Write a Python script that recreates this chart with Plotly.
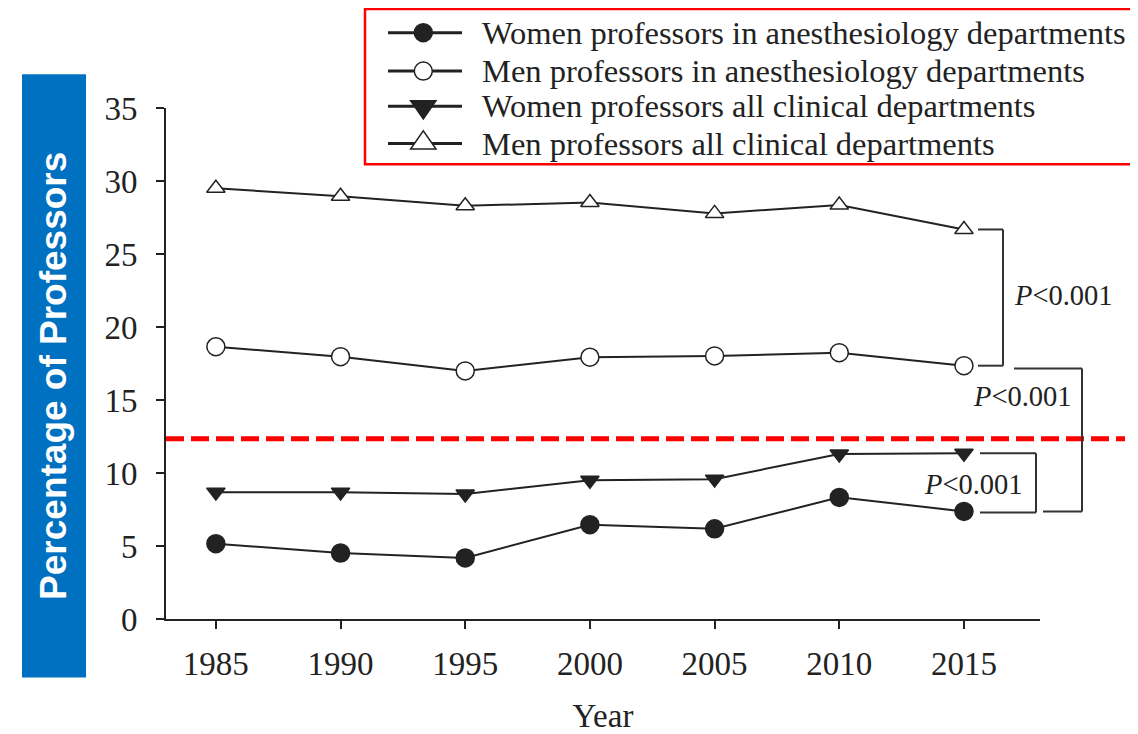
import math
import plotly.graph_objects as go

years = [1985, 1990, 1995, 2000, 2005, 2010, 2015]
women_anes = [5.16, 4.52, 4.18, 6.46, 6.18, 8.33, 7.37]
men_anes = [18.65, 17.97, 16.99, 17.93, 18.02, 18.24, 17.35]
women_all = [8.69, 8.69, 8.56, 9.5, 9.58, 11.3, 11.35]
men_all = [29.5, 28.96, 28.3, 28.53, 27.78, 28.35, 26.68]
names = ["Women professors in anesthesiology departments",
         "Men professors in anesthesiology departments",
         "Women professors all clinical departments",
         "Men professors all clinical departments"]
threshold = 12.34
p_label = "<i>P</i><0.001"
y_ticks = [0, 5, 10, 15, 20, 25, 30, 35]

SERIF = "Liberation Serif, Times New Roman, serif"
INK = "#222222"

# page geometry (the page body adds an 8px margin before the figure)
OFF = 8
W, H = 1138 - OFF, 734 - OFF
PL, PR, PT, PB = 166.0, 1040.0, 107.7, 619.4
def px(x):
    return (x - PL) / (PR - PL)
def py(y):
    return (PB - y) / (PB - PT)

fig = go.Figure()
specs = [
    (women_anes, "circle", INK, 18, 18),
    (men_anes, "circle", "white", 18, 18),
    (women_all, "triangle-down", INK, 16, 22),
    (men_all, "triangle-up", "white", 16, 22),
]
for (vals, sym, fill, size, _), nm in zip(specs, names):
    fig.add_trace(go.Scatter(
        x=years, y=vals, name=nm, mode="lines+markers", showlegend=False,
        line=dict(color=INK, width=2),
        marker=dict(symbol=sym, size=size, color=fill, line=dict(color=INK, width=1.5)),
        cliponaxis=False,
    ))

shapes = []
# hand-built legend: box, key lines, key symbols
leg_rows = [32.3, 70.7, 106.0, 143.3]
leg_mx = 423.3
shapes.append(dict(type="rect", xref="paper", yref="paper", x0=px(365), x1=px(1136.5),
                   y0=py(164), y1=py(8.5), line=dict(color="#FF0000", width=2.5),
                   fillcolor="white", layer="below"))
for (vals, sym, fill, _, lsize), row in zip(specs, leg_rows):
    shapes.append(dict(type="line", xref="paper", yref="paper", x0=px(388), x1=px(462),
                       y0=py(row), y1=py(row), line=dict(color=INK, width=3)))
    common = dict(xref="paper", yref="paper", xsizemode="pixel", ysizemode="pixel",
                  xanchor=px(leg_mx), yanchor=py(row), fillcolor=fill,
                  line=dict(color=INK, width=1.5))
    r = lsize / 2
    if sym == "circle":
        shapes.append(dict(type="circle", x0=-r, x1=r, y0=-r, y1=r, **common))
    else:
        rt = r * 2 / math.sqrt(3)
        if sym == "triangle-up":
            path = f"M{-rt:.2f},{-r/2:.2f}L{rt:.2f},{-r/2:.2f}L0,{rt:.2f}Z"
        else:
            path = f"M{-rt:.2f},{r/2:.2f}L{rt:.2f},{r/2:.2f}L0,{-rt:.2f}Z"
        shapes.append(dict(type="path", path=path, **common))

# red dashed reference line
shapes.append(dict(type="line", xref="paper", yref="y", x0=0, x1=px(1125),
                   y0=threshold, y1=threshold,
                   line=dict(color="#FF0000", width=5, dash="18px,7px")))

br_line = dict(color="#333333", width=2)
b1 = [(px(978), men_all[-1]), (px(1003), men_all[-1]), (px(1003), men_anes[-1]), (px(978), men_anes[-1])]
b2 = [(px(1014), men_anes[-1] - 0.2), (px(1082), men_anes[-1] - 0.2), (px(1082), women_anes[-1]), (px(1043), women_anes[-1])]
b3 = [(px(980), women_all[-1]), (px(1036), women_all[-1]), (px(1036), women_anes[-1] - 0.08), (px(980), women_anes[-1] - 0.08)]
for b in (b1, b2, b3):
    for (xa, ya), (xb, yb) in zip(b[:-1], b[1:]):
        shapes.append(dict(type="line", xref="paper", yref="y",
                           x0=xa, x1=xb, y0=ya, y1=yb, line=br_line))

# blue box behind the y title
shapes.append(dict(type="rect", xref="paper", yref="paper",
                   x0=px(22), x1=px(86), y0=py(678), y1=py(74),
                   fillcolor="#0070C0", line=dict(width=0), layer="below"))

pfont = dict(family=SERIF, size=28.5, color=INK)
annotations = [
    dict(text=p_label, xref="paper", yref="paper", x=px(1012), y=py(295), xanchor="left",
         yanchor="middle", showarrow=False, font=pfont),
    dict(text=p_label, xref="paper", yref="paper", x=px(971), y=py(397), xanchor="left",
         yanchor="middle", showarrow=False, font=pfont),
    dict(text=p_label, xref="paper", yref="paper", x=px(922), y=py(485), xanchor="left",
         yanchor="middle", showarrow=False, font=pfont),
    dict(text="<b>Percentage of Professors</b>", xref="paper", yref="paper",
         x=px(54), y=py(376), textangle=-90, showarrow=False,
         xanchor="center", yanchor="middle",
         font=dict(family="Liberation Sans, Arial, sans-serif", size=37, color="white")),
]
for nm, row in zip(names, leg_rows):
    annotations.append(dict(text=nm, xref="paper", yref="paper", x=px(480), y=py(row),
                            xanchor="left", yanchor="middle", showarrow=False,
                            font=dict(family=SERIF, size=32.5, color=INK)))

fig.update_layout(
    width=W, height=H,
    margin=dict(l=PL - OFF, r=W - (PR - OFF), t=PT - OFF, b=H - (PB - OFF)),
    paper_bgcolor="white", plot_bgcolor="white",
    font=dict(family=SERIF, color=INK),
    shapes=shapes, annotations=annotations,
    showlegend=False,
    xaxis=dict(range=[1983, 2018.05], tickvals=years, showgrid=False, automargin=False,
               zeroline=False, showline=True, linecolor=INK, linewidth=2, ticks="outside",
               ticklen=8, tickwidth=2, tickcolor=INK, ticklabelstandoff=6,
               tickfont=dict(family=SERIF, size=33, color=INK),
               title=dict(text="Year", font=dict(family=SERIF, size=33, color=INK), standoff=23)),
    yaxis=dict(range=[0, 35], tickvals=y_ticks, showgrid=False, automargin=False,
               zeroline=False, showline=True, linecolor=INK, linewidth=2,
               ticks="outside", ticklen=8, tickwidth=2, tickcolor=INK,
               tickfont=dict(family=SERIF, size=33, color=INK), ticklabelstandoff=12),
)

fig.write_html("out.html")
